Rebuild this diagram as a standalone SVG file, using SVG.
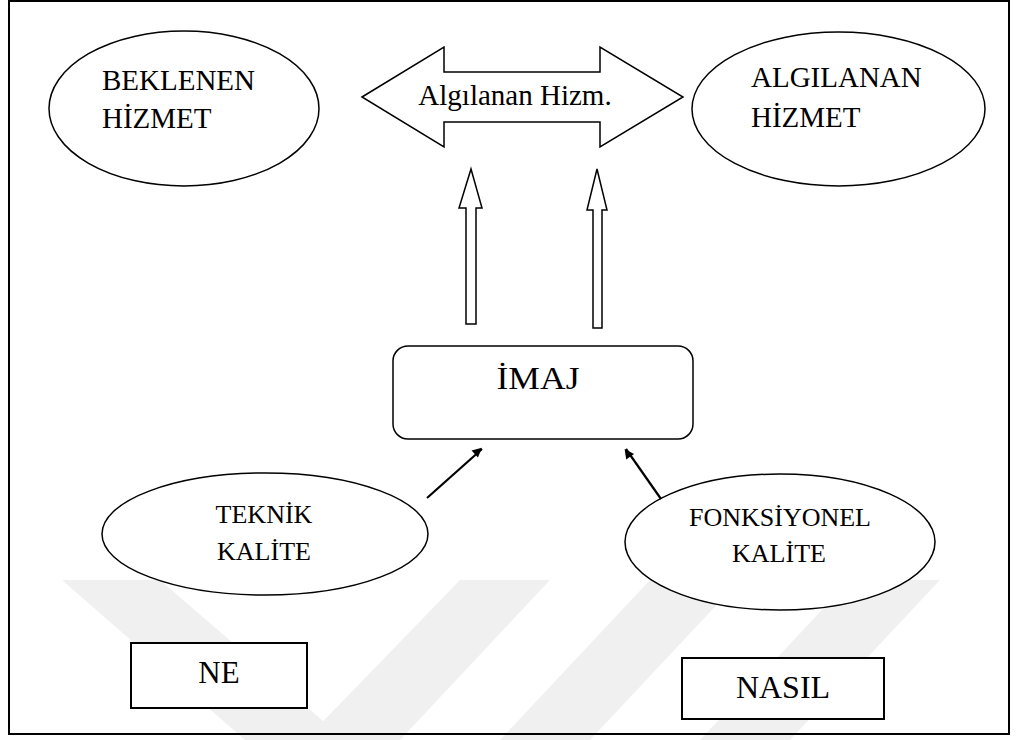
<svg xmlns="http://www.w3.org/2000/svg" width="1016" height="740" viewBox="0 0 1016 740">
<style>
text{font-family:"Liberation Serif","Times New Roman",serif;fill:#000}
.s{fill:#fff;stroke:#000;stroke-width:1.5}
.b{fill:#fff;stroke:#000;stroke-width:2}
.ln{stroke:#000;stroke-width:2.2;fill:none}
.wm{fill:#f0f0f0}
</style>
<defs>
<marker id="ah" viewBox="0 0 10 10" refX="9" refY="5" markerWidth="6" markerHeight="6" markerUnits="userSpaceOnUse" orient="auto" overflow="visible">
<path d="M0,0 L10,5 L0,10 z" fill="#000" transform="scale(1.6) translate(-3.5,-3)"/>
</marker>
</defs>
<rect width="1016" height="740" fill="#fff"/>
<g id="watermark">
<polygon class="wm" points="62,580 160,580 345,740 245,740"/>
<polygon class="wm" points="460,580 550,580 400,740 305,740"/>
<polygon class="wm" points="650,580 740,580 590,740 500,740"/>
<polygon class="wm" points="850,580 940,580 790,740 700,740"/>
</g>
<rect x="9" y="1" width="1000" height="733" fill="none" stroke="#000" stroke-width="2"/>
<g id="beklenen">
<ellipse class="s" cx="184" cy="108.5" rx="135" ry="77.5"/>
<text x="102" y="90" font-size="29">BEKLENEN</text>
<text x="102" y="128" font-size="29">HİZMET</text>
</g>
<g id="algilanan">
<ellipse class="s" cx="838.5" cy="109" rx="146.5" ry="77"/>
<text x="751" y="87" font-size="29">ALGILANAN</text>
<text x="751" y="127" font-size="29">HİZMET</text>
</g>
<g id="algilanan-hizm">
<polygon class="s" points="362,97 444,47 444,72 600,72 600,47 683,97 600,147 600,122 444,122 444,147"/>
<text x="515" y="105" font-size="29" text-anchor="middle">Algılanan Hizm.</text>
</g>
<g id="imaj">
<rect class="s" x="393" y="346" width="300" height="93" rx="15"/>
<text x="538" y="389" font-size="32" text-anchor="middle" textLength="83" lengthAdjust="spacingAndGlyphs">İMAJ</text>
</g>
<g id="teknik">
<ellipse class="s" cx="265" cy="534" rx="163" ry="61"/>
<text x="264" y="523" font-size="26" text-anchor="middle">TEKNİK</text>
<text x="264" y="560" font-size="26" text-anchor="middle">KALİTE</text>
</g>
<g id="fonksiyonel">
<ellipse class="s" cx="780" cy="542" rx="155" ry="68"/>
<text x="780" y="526" font-size="26" text-anchor="middle">FONKSİYONEL</text>
<text x="779" y="562" font-size="26" text-anchor="middle">KALİTE</text>
</g>
<g id="ne">
<rect class="b" x="131" y="643" width="176" height="65"/>
<text x="219" y="683" font-size="31" text-anchor="middle">NE</text>
</g>
<g id="nasil">
<rect class="b" x="682" y="658" width="202" height="61"/>
<text x="783" y="698" font-size="32" text-anchor="middle">NASIL</text>
</g>
<g id="connectors">
<polygon class="s" points="471,169 482,208 476,208 476,324 466,324 466,208 459,208"/>
<polygon class="s" points="597,169 607,210 602,210 602,328 593,328 593,210 587,210"/>
<line class="ln" x1="427" y1="498" x2="482" y2="449" marker-end="url(#ah)"/>
<line class="ln" x1="661" y1="499" x2="626" y2="449" marker-end="url(#ah)"/>
</g>
</svg>
